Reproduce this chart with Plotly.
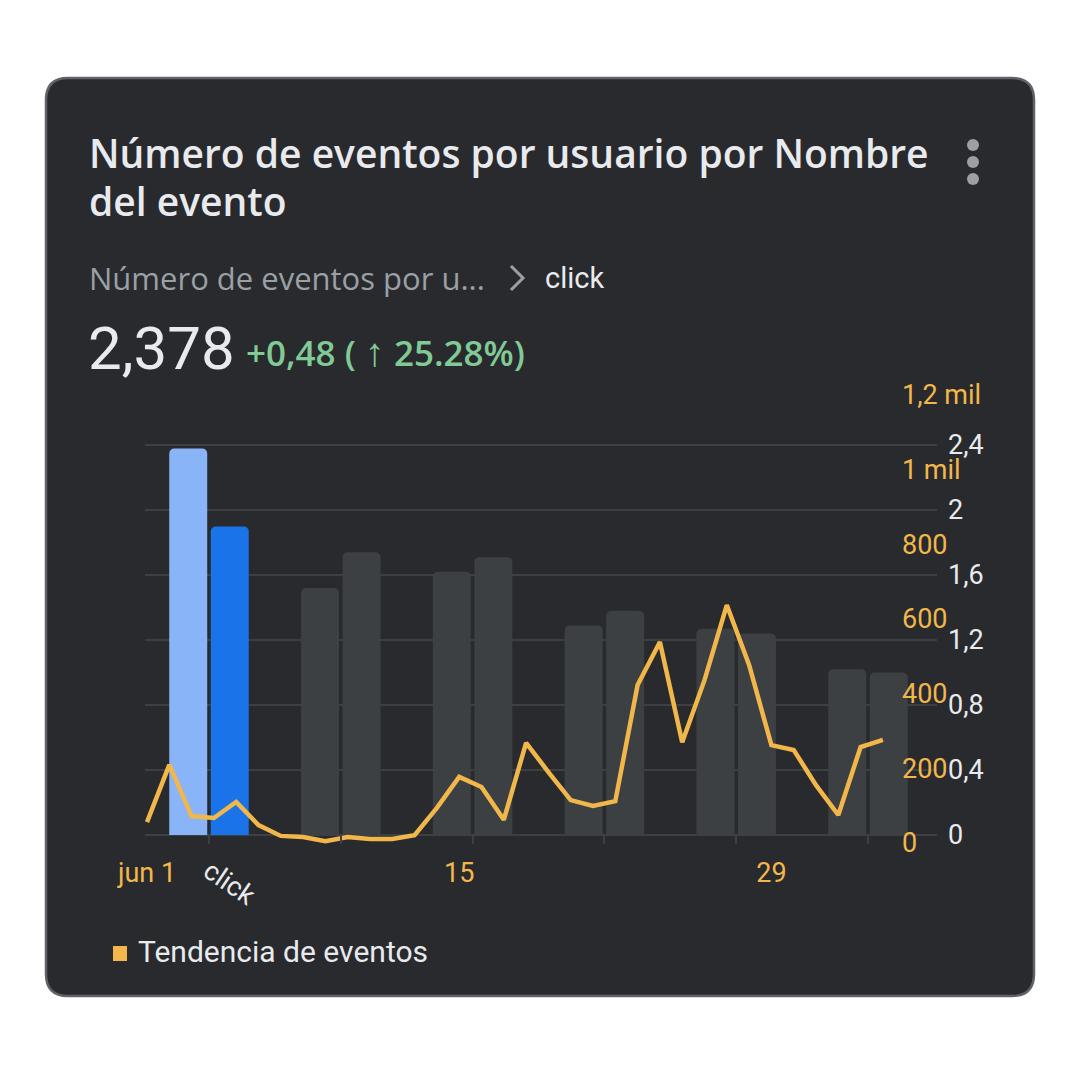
import plotly.graph_objects as go
import pandas as pd

# ---------------- data ----------------
categorias = [0, 1, 2, 3, 4, 5]
etiquetas_categorias = ["click", "", "", "", "", ""]
valores_actual = [2.378, 1.52, 1.62, 1.29, 1.27, 1.02]
valores_anterior = [1.898, 1.74, 1.71, 1.38, 1.24, 1.00]
colores_actual = ["#8ab4f8", "#3c4043", "#3c4043", "#3c4043", "#3c4043", "#3c4043"]
colores_anterior = ["#1a73e8", "#3c4043", "#3c4043", "#3c4043", "#3c4043", "#3c4043"]

fechas = pd.date_range("2023-06-01", periods=34, freq="D")
tendencia_eventos = [56, 209, 72, 67, 110, 48, 19, 16, 5, 16, 11, 11, 21, 94, 177, 150, 62,
                     268, 190, 115, 99, 112, 423, 538, 270, 436, 637, 477, 262, 249, 155, 75,
                     257, 276]

ticks_barras = [0, 0.4, 0.8, 1.2, 1.6, 2.0, 2.4]
etiquetas_barras = ["0", "0,4", "0,8", "1,2", "1,6", "2", "2,4"]
ticks_tendencia = [0, 200, 400, 600, 800, 1000, 1200]
etiquetas_tendencia = ["0", "200", "400", "600", "800", "1 mil", "1,2 mil"]
ticks_fechas = [pd.Timestamp("2023-06-01"), pd.Timestamp("2023-06-15"), pd.Timestamp("2023-06-29")]
etiquetas_fechas = ["jun 1", "15", "29"]

# ---------------- layout geometry (pixels) ----------------
W = H = 1080
PL, PR, PT, PB = 145, 937, 385, 850  # plot area


def px(x):
    return (x - PL) / (PR - PL)


def py(y):
    return (PB - y) / (PB - PT)


BG = "#292a2d"
ORANGE = "#f2b74b"
WHITE = "#e8eaed"
GREY = "#9aa0a6"

# bar y axis: 0 at y=835, 162.5 px per unit
bar_ppu = 162.5
bar_range = [-(PB - 835) / bar_ppu, (835 - PT) / bar_ppu]
# line y axis: 0 at y=843, 74.7 px per 200
line_ppu = 74.7 / 200
line_range = [-(PB - 843) / line_ppu, (843 - PT) / line_ppu]
# bar x axis: category 0 centre at ~209, 131.8 px per category
cat_ppu = 131.8
cat_range = [-(209 - PL) / cat_ppu, (PR - 209) / cat_ppu]
# date axis: jun 1 at x=147, 22.3 px per day
day_ppu = 22.3
d0 = pd.Timestamp("2023-06-01")
date_range = [d0 - pd.Timedelta(days=(147 - PL) / day_ppu), d0 + pd.Timedelta(days=(PR - 147) / day_ppu)]

fig = go.Figure()
fig.add_trace(go.Bar(x=categorias, y=valores_actual, marker=dict(color=colores_actual, line=dict(width=0)),
                     name="actual", xaxis="x", yaxis="y", showlegend=False, hoverinfo="skip"))
fig.add_trace(go.Bar(x=categorias, y=valores_anterior, marker=dict(color=colores_anterior, line=dict(width=0)),
                     name="anterior", xaxis="x", yaxis="y", showlegend=False, hoverinfo="skip"))
fig.add_trace(go.Scatter(x=fechas, y=tendencia_eventos, mode="lines", name="Tendencia de eventos",
                         line=dict(color=ORANGE, width=4.5), xaxis="x2", yaxis="y2", showlegend=False))

font_chart = "Roboto"

fig.update_layout(
    width=W, height=H,
    margin=dict(l=PL, r=W - PR, t=PT, b=H - PB, pad=0),
    paper_bgcolor="white",
    plot_bgcolor="rgba(0,0,0,0)",
    barmode="group", bargap=0.37, bargroupgap=0.085, barcornerradius=5,
    xaxis=dict(range=cat_range, tickvals=categorias, ticktext=etiquetas_categorias, tickangle=34,
               tickfont=dict(family=font_chart, size=27, color=WHITE),
               ticks="outside", ticklen=8, tickwidth=2, tickcolor="#3c4043",
               showgrid=False, zeroline=False, showline=False, ticklabelstandoff=1,
               anchor="free", position=py(835), fixedrange=True),
    xaxis2=dict(range=date_range, overlaying="x", tickvals=ticks_fechas, ticktext=etiquetas_fechas,
                tickfont=dict(family=font_chart, size=27, color=ORANGE),
                ticks="", showgrid=False, zeroline=False, showline=False,
                anchor="free", position=py(835), side="bottom", ticklabelstandoff=19),
    yaxis=dict(range=bar_range, tickvals=ticks_barras, ticktext=etiquetas_barras, side="right",
               tickfont=dict(family=font_chart, size=27, color=WHITE),
               showgrid=True, gridcolor="#3c4043", gridwidth=2, zeroline=False, showline=False,
               ticks="", ticklabelstandoff=10),
    yaxis2=dict(range=line_range, tickvals=ticks_tendencia, ticktext=etiquetas_tendencia,
                overlaying="y", side="right", anchor="free", position=px(900),
                tickfont=dict(family=font_chart, size=27, color=ORANGE),
                showgrid=False, zeroline=False, showline=False, ticks="", ticklabelstandoff=1),
)

# card background
x0, y0, x1, y1, r = 46, 78, 1034, 996, 22
card_path = (f"M {px(x0 + r)} {py(y0)} L {px(x1 - r)} {py(y0)} "
             f"Q {px(x1)} {py(y0)} {px(x1)} {py(y0 + r)} L {px(x1)} {py(y1 - r)} "
             f"Q {px(x1)} {py(y1)} {px(x1 - r)} {py(y1)} L {px(x0 + r)} {py(y1)} "
             f"Q {px(x0)} {py(y1)} {px(x0)} {py(y1 - r)} L {px(x0)} {py(y0 + r)} "
             f"Q {px(x0)} {py(y0)} {px(x0 + r)} {py(y0)} Z")
fig.add_shape(type="path", path=card_path, xref="paper", yref="paper", layer="below",
              fillcolor=BG, line=dict(color="#5f6368", width=2.5))

# kebab menu dots
for cy in (145, 162, 179):
    fig.add_shape(type="circle", xref="paper", yref="paper", layer="above",
                  x0=px(967), x1=px(979), y0=py(cy + 6), y1=py(cy - 6),
                  fillcolor=GREY, line=dict(width=0))

# breadcrumb chevron
fig.add_shape(type="path", xref="paper", yref="paper",
              path=f"M {px(511)} {py(266)} L {px(523)} {py(278)} L {px(511)} {py(290)}",
              line=dict(color=GREY, width=3))

# legend square
fig.add_shape(type="rect", xref="paper", yref="paper", x0=px(113), x1=px(127), y0=py(961), y1=py(946),
              fillcolor=ORANGE, line=dict(width=0))


def text(x, y, s, size, color, family="Roboto", weight=400):
    fig.add_annotation(x=px(x), y=py(y), xref="paper", yref="paper", text=s, showarrow=False,
                       xanchor="left", yanchor="middle", borderpad=0,
                       font=dict(family=family, size=size, color=color, weight=weight))


title_font = "Open Sans"
text(88, 152, "Número de eventos por usuario por Nombre", 39, WHITE, title_font, 600)
text(88, 201, "del evento", 39, WHITE, title_font, 600)
text(88, 278, "Número de eventos por u...", 31, GREY, "Open Sans", 400)
text(544, 278, "click", 29, WHITE)
text(87, 348, "2,378", 60, WHITE)
text(245, 350, "+0,48 (\u00a0<span style='font-size:40px'>↑</span>\u00a025.28%)", 35, "#81c995",
     "Open Sans", 600)
text(137, 951, "Tendencia de eventos", 30, WHITE)

fig.write_html("out.html")
